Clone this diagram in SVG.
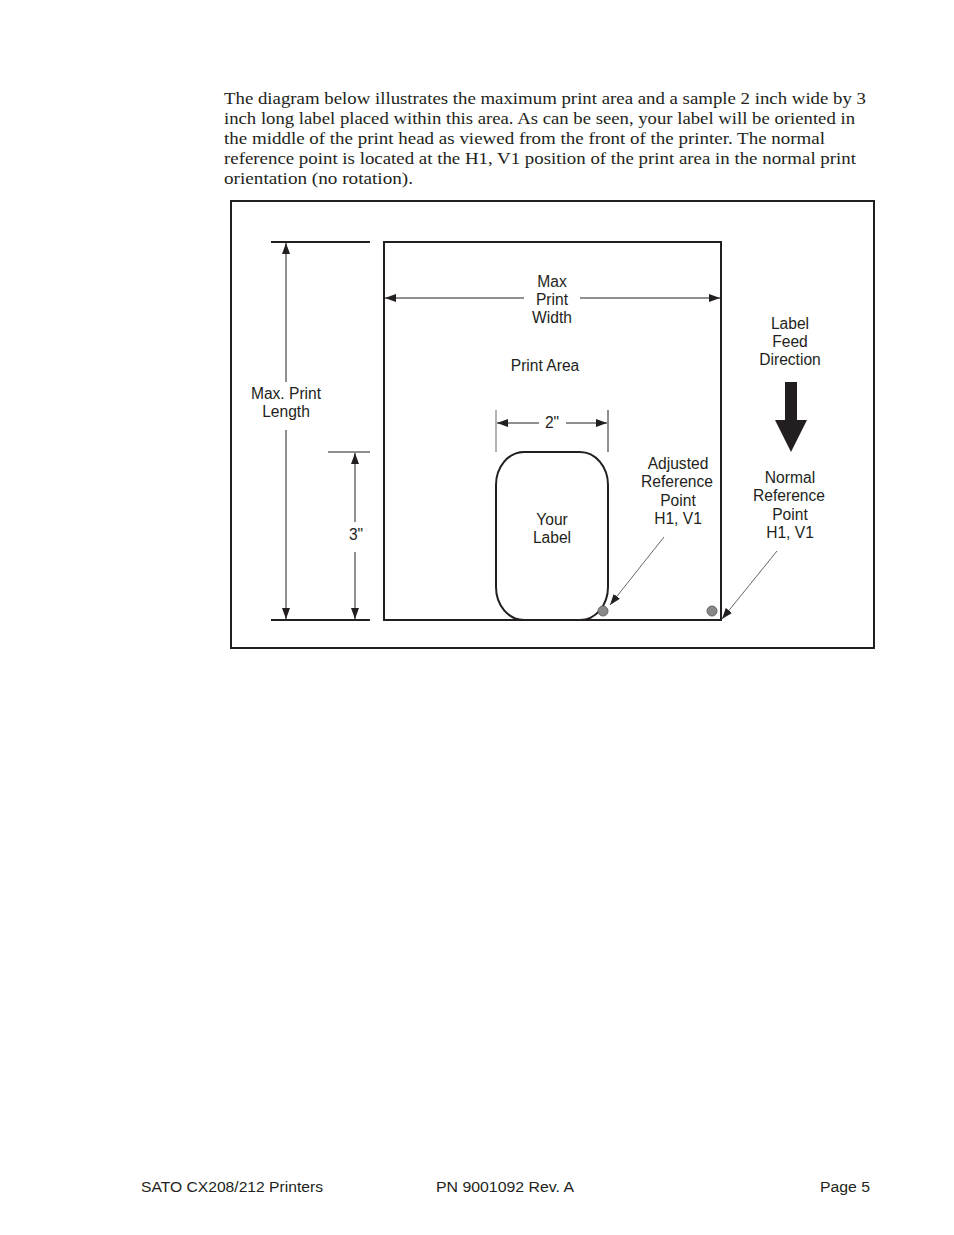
<svg xmlns="http://www.w3.org/2000/svg" width="954" height="1235" viewBox="0 0 954 1235">
<defs>
<style>
.para{font-family:"Liberation Serif",serif;font-size:17.5px;fill:#231f20}
.lbl{font-family:"Liberation Sans",Arial,sans-serif;font-size:15.6px;fill:#231f20;text-anchor:middle}
.foot{font-family:"Liberation Sans",Arial,sans-serif;font-size:15.5px;fill:#231f20}
.thick{stroke:#231f20;stroke-width:2;fill:none}
.thin{stroke:#231f20;stroke-width:1;fill:none}
.ext{stroke:#666;stroke-width:1;fill:none}
</style>
<marker id="ah" viewBox="0 0 11 8" refX="11" refY="4" markerWidth="11" markerHeight="8" markerUnits="userSpaceOnUse" orient="auto">
<path d="M0,0 L11,4 L0,8 Z" fill="#231f20"/>
</marker>
</defs>
<rect width="954" height="1235" fill="#fff"/>
<g id="paragraph">
<text class="para" x="224" y="104" textLength="642" lengthAdjust="spacingAndGlyphs">The diagram below illustrates the maximum print area and a sample 2 inch wide by 3</text>
<text class="para" x="224" y="124" textLength="631" lengthAdjust="spacingAndGlyphs">inch long label placed within this area. As can be seen, your label will be oriented in</text>
<text class="para" x="224" y="144" textLength="601" lengthAdjust="spacingAndGlyphs">the middle of the print head as viewed from the front of the printer. The normal</text>
<text class="para" x="224" y="164" textLength="632" lengthAdjust="spacingAndGlyphs">reference point is located at the H1, V1 position of the print area in the normal print</text>
<text class="para" x="224" y="184" textLength="189" lengthAdjust="spacingAndGlyphs">orientation (no rotation).</text>
</g>
<g id="frame">
<rect x="231" y="201" width="643" height="447" class="thick"/>
</g>
<g id="print-area">
<rect x="384" y="242" width="337" height="378" class="thick"/>
<text class="lbl" x="545" y="371">Print Area</text>
</g>
<g id="your-label">
<rect x="496" y="452" width="112" height="168" rx="28" ry="33" class="thick"/>
<text class="lbl" x="552" y="525">Your</text>
<text class="lbl" x="552" y="543">Label</text>
</g>
<g id="adjusted-point">
<circle cx="603" cy="611" r="5" fill="#888" stroke="#666" stroke-width="1"/>
<text class="lbl" x="678" y="469">Adjusted</text>
<text class="lbl" x="677" y="487">Reference</text>
<text class="lbl" x="678" y="506">Point</text>
<text class="lbl" x="678" y="524">H1, V1</text>
</g>
<g id="normal-point">
<circle cx="712" cy="611" r="5" fill="#888" stroke="#666" stroke-width="1"/>
<text class="lbl" x="790" y="483">Normal</text>
<text class="lbl" x="789" y="501">Reference</text>
<text class="lbl" x="790" y="520">Point</text>
<text class="lbl" x="790" y="538">H1, V1</text>
</g>
<g id="feed-direction">
<text class="lbl" x="790" y="329">Label</text>
<text class="lbl" x="790" y="347">Feed</text>
<text class="lbl" x="790" y="365">Direction</text>
<path d="M785,382 H797 V420 H807 L791,452 L775,420 H785 Z" fill="#231f20"/>
</g>
<g id="max-length">
<text class="lbl" x="286" y="399">Max. Print</text>
<text class="lbl" x="286" y="417">Length</text>
</g>
<g id="three-inch">
<text class="lbl" x="356" y="540">3"</text>
</g>
<g id="max-width">
<text class="lbl" x="552" y="287">Max</text>
<text class="lbl" x="552" y="305">Print</text>
<text class="lbl" x="552" y="323">Width</text>
</g>
<g id="two-inch">
<text class="lbl" x="552" y="428">2"</text>
</g>
<g id="connectors">
<line x1="271" y1="242" x2="370" y2="242" class="thick"/>
<line x1="271" y1="620" x2="370" y2="620" class="thick"/>
<line x1="328" y1="452" x2="370" y2="452" class="thin"/>
<line x1="286" y1="382" x2="286" y2="243" class="thin" marker-end="url(#ah)"/>
<line x1="286" y1="430" x2="286" y2="619" class="thin" marker-end="url(#ah)"/>
<line x1="355" y1="522" x2="355" y2="453" class="thin" marker-end="url(#ah)"/>
<line x1="355" y1="552" x2="355" y2="619" class="thin" marker-end="url(#ah)"/>
<line x1="524" y1="298" x2="385" y2="298" class="thin" marker-end="url(#ah)"/>
<line x1="580" y1="298" x2="720" y2="298" class="thin" marker-end="url(#ah)"/>
<line x1="496" y1="410" x2="496" y2="452" class="ext"/>
<line x1="608" y1="410" x2="608" y2="452" class="thin"/>
<line x1="539" y1="423" x2="497" y2="423" class="thin" marker-end="url(#ah)"/>
<line x1="566" y1="423" x2="607" y2="423" class="thin" marker-end="url(#ah)"/>
<line x1="664" y1="537" x2="610" y2="605" class="ext" marker-end="url(#ah)"/>
<line x1="777" y1="551" x2="722" y2="619" class="ext" marker-end="url(#ah)"/>
</g>
<g id="footer">
<text class="foot" x="141" y="1192" textLength="182" lengthAdjust="spacingAndGlyphs">SATO CX208/212 Printers</text>
<text class="foot" x="436" y="1192" textLength="138" lengthAdjust="spacingAndGlyphs">PN 9001092 Rev. A</text>
<text class="foot" x="820" y="1192" textLength="50" lengthAdjust="spacingAndGlyphs">Page 5</text>
</g>
</svg>
